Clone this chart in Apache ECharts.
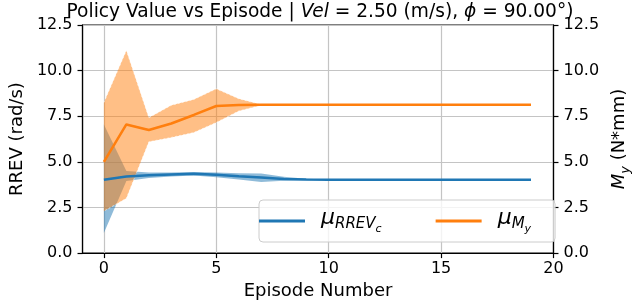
<!DOCTYPE html>
<html><head><meta charset="utf-8">
<script src="https://cdn.jsdelivr.net/npm/echarts@6/dist/echarts.min.js"></script>
<style>html,body{margin:0;padding:0;background:#fff}#c{width:640px;height:305px}</style>
</head><body><div id="c"></div>
<script>
const episodes = [0,1,2,3,4,5,6,7,8,9,10,11,12,13,14,15,16,17,18,19];
const rrevMean = [4.02,4.20,4.26,4.31,4.35,4.29,4.21,4.14,4.06,4.03,4.02,4.02,4.02,4.02,4.02,4.02,4.02,4.02,4.02,4.02];
const rrevLow  = [1.10,3.95,4.12,4.20,4.25,4.16,4.03,3.90,3.96,3.99,4.00,4.00,4.00,4.00,4.00,4.00,4.00,4.00,4.00,4.00];
const rrevHigh = [7.05,4.50,4.42,4.42,4.45,4.42,4.38,4.36,4.18,4.08,4.04,4.04,4.04,4.05,4.04,4.04,4.04,4.04,4.04,4.04];
const myMean = [5.00,7.05,6.75,7.10,7.57,8.06,8.12,8.13,8.13,8.13,8.13,8.13,8.13,8.13,8.13,8.13,8.13,8.13,8.13,8.13];
const myHigh = [8.25,11.10,7.42,8.10,8.42,9.00,8.46,8.15,8.14,8.14,8.14,8.14,8.14,8.14,8.14,8.14,8.14,8.14,8.14,8.14];
const myLow  = [2.30,3.00,6.10,6.34,6.61,7.16,7.79,8.10,8.12,8.12,8.12,8.12,8.12,8.12,8.12,8.12,8.12,8.12,8.12,8.12];
const xTicks = [0,5,10,15,20];

const BLUE = '#1f77b4', ORANGE = '#ff7f0e';
const F = 'DejaVu Sans';
const pairs = arr => episodes.map((e,i)=>[e,arr[i]]);
const bandData = (lo,hi) => episodes.map((e,i)=>[e,lo[i],hi[i]]);

function bandRenderer(lo, hi, color, opacity, edge) {
  return function(params, api) {
    if (params.dataIndexInside !== 0) return null;
    const top = episodes.map((e,i)=>api.coord([e, hi[i]]));
    const bot = episodes.map((e,i)=>api.coord([e, lo[i]])).reverse();
    const children = [{
      type:'polygon', shape:{points: top.concat(bot)},
      style:{fill:color, opacity:opacity}
    }];
    if (edge) {
      children.push({type:'polyline', shape:{points:top}, style:{stroke:'#fff', lineWidth:0.8, lineDash:[2,2], opacity:0.7, fill:null}});
      children.push({type:'polyline', shape:{points:bot}, style:{stroke:'#fff', lineWidth:0.8, lineDash:[2,2], opacity:0.7, fill:null}});
    }
    return {type:'group', children};
  };
}

const chart = echarts.init(document.getElementById('c'), null, {renderer:'canvas'});
const axisCommon = {
  min:0, max:12.5, interval:2.5,
  axisLine:{show:true, onZero:false, lineStyle:{color:'#000', width:1.2}},
  axisTick:{show:true, length:5, lineStyle:{color:'#000', width:1.2}},
  axisLabel:{fontFamily:F, fontSize:16, color:'#000', formatter:v=>v.toFixed(1)},
};
chart.setOption({
  animation:false,
  title:{
    left:'center', top:-2,
    text:'{n|Policy Value vs Episode | }{i|Vel}{n| = 2.50 (m/s), }{i|ϕ}{n| = 90.00°)}',
    textStyle:{fontWeight:'normal', rich:{
      n:{fontFamily:F, fontSize:18.6, fontWeight:'normal', color:'#000'},
      i:{fontFamily:F, fontSize:18.6, fontWeight:'normal', fontStyle:'italic', color:'#000'}
    }}
  },
  grid:{left:72, right:72, top:25, bottom:50, show:true, borderColor:'#000', borderWidth:1.2},
  legend:{
    left:259, top:200, padding:[7,24,7,0],
    backgroundColor:'rgba(255,255,255,0.8)', borderColor:'#cccccc', borderWidth:1, borderRadius:4,
    itemWidth:46, itemHeight:3, itemGap:54,
    data:[{name:'rrev', icon:'rect'},{name:'my', icon:'rect'}],
    formatter: n => n==='rrev' ? '{sp|}{mu|μ}{s1|RREV}{s2|c}' : '{sp|}{mu|μ}{s1|M}{s2|y}',
    textStyle:{rich:{
      sp:{width:11},
      mu:{fontFamily:F, fontSize:22, fontStyle:'italic', color:'#000', verticalAlign:'top', padding:[0,0,0,0]},
      s1:{fontFamily:F, fontSize:15, fontStyle:'italic', color:'#000', verticalAlign:'top', padding:[10,0,0,0]},
      s2:{fontFamily:F, fontSize:11, fontStyle:'italic', color:'#000', verticalAlign:'top', padding:[17,0,0,0]}
    }}
  },
  xAxis:{
    type:'value', min:-0.95, max:20,
    name:'Episode Number', nameLocation:'middle', nameGap:27,
    nameTextStyle:{fontFamily:F, fontSize:18, color:'#000'},
    axisLine:{show:true, onZero:false, lineStyle:{color:'#000', width:1.2}},
    axisTick:{show:true, length:5, customValues:xTicks, lineStyle:{color:'#000', width:1.2}},
    axisLabel:{fontFamily:F, fontSize:16, color:'#000', margin:8, customValues:xTicks},
    splitLine:{show:true, lineStyle:{color:'#c4c4c4', width:1.2}}
  },
  yAxis:[
    Object.assign({}, axisCommon, {
      position:'left', name:'RREV (rad/s)', nameLocation:'middle', nameGap:55, nameRotate:90,
      nameTextStyle:{fontFamily:F, fontSize:18, color:'#000'},
      axisLabel:Object.assign({}, axisCommon.axisLabel, {margin:10}),
      splitLine:{show:true, lineStyle:{color:'#c4c4c4', width:1.2}}
    }),
    Object.assign({}, axisCommon, {
      position:'right', name:'{m|M}{y|y}{n| (N*mm)}', nameLocation:'middle', nameGap:49, nameRotate:90,
      nameTextStyle:{rich:{
        m:{fontFamily:F, fontSize:18, fontStyle:'italic', color:'#000', verticalAlign:'top', padding:[0,0,0,0]},
        y:{fontFamily:F, fontSize:13, fontStyle:'italic', color:'#000', verticalAlign:'top', padding:[9,0,0,0]},
        n:{fontFamily:F, fontSize:18, color:'#000', verticalAlign:'top', padding:[0,0,0,0]}
      }},
      axisLabel:Object.assign({}, axisCommon.axisLabel, {margin:10}),
      splitLine:{show:false}
    })
  ],
  series:[
    {name:'rrevBand', type:'custom', yAxisIndex:0, data:bandData(rrevLow,rrevHigh),
     encode:{x:0, y:[1,2]}, renderItem:bandRenderer(rrevLow, rrevHigh, BLUE, 0.5, false), silent:true, z:1},
    {name:'myBand', type:'custom', yAxisIndex:1, data:bandData(myLow,myHigh),
     encode:{x:0, y:[1,2]}, renderItem:bandRenderer(myLow, myHigh, ORANGE, 0.5, true), silent:true, z:2},
    {name:'rrev', type:'line', yAxisIndex:0, data:pairs(rrevMean), symbol:'none', color:BLUE,
     lineStyle:{color:BLUE, width:2.5}, itemStyle:{color:BLUE}, z:5},
    {name:'my', type:'line', yAxisIndex:1, data:pairs(myMean), symbol:'none', color:ORANGE,
     lineStyle:{color:ORANGE, width:2.5}, itemStyle:{color:ORANGE}, z:5}
  ]
});
</script></body></html>
